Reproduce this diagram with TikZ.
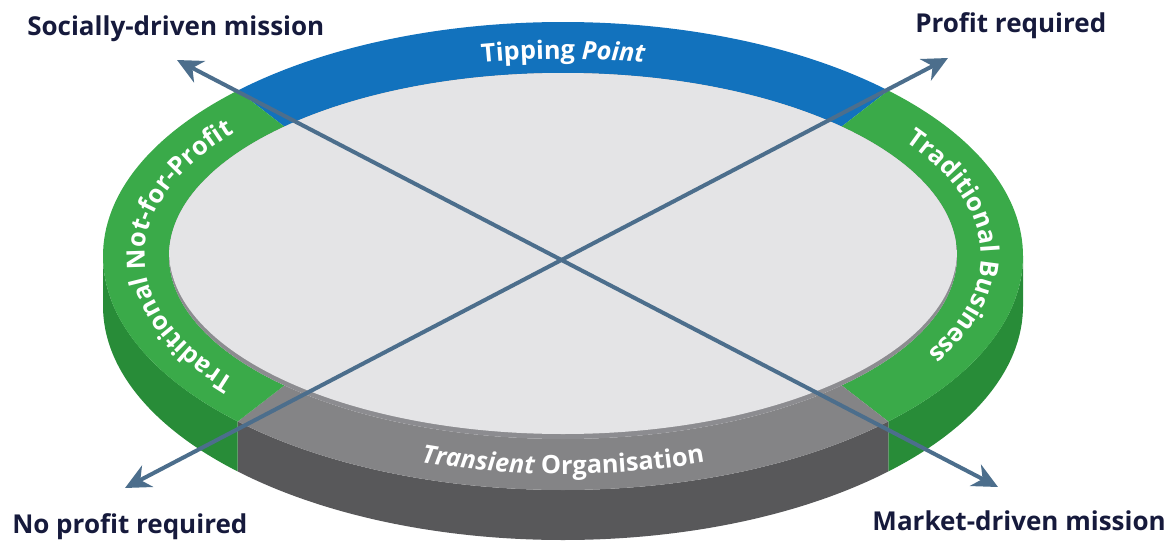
\documentclass[tikz,border=0pt]{standalone}
\usepackage{fontspec}
\setmainfont{Open Sans}
\usepackage{tikz}
\usetikzlibrary{arrows.meta}
\usetikzlibrary{decorations.text}

\newcommand{\ringfont}{\fontsize{19}{22}\selectfont\bfseries}
\newcommand{\labelfont}{\fontsize{19.5}{23}\selectfont\bfseries}

\begin{document}
\begin{tikzpicture}[x=0.75pt,y=0.75pt,yscale=-1,xscale=1,
    tipblue/.style={fill={rgb, 255:red, 18; green, 114; blue, 189 }},
    topgreen/.style={fill={rgb, 255:red, 58; green, 170; blue, 73 }},
    topgray/.style={fill={rgb, 255:red, 132; green, 132; blue, 134 }},
    sidegreen/.style={fill={rgb, 255:red, 40; green, 140; blue, 56 }},
    sidegray/.style={fill={rgb, 255:red, 88; green, 88; blue, 90 }},
    rimgray/.style={fill={rgb, 255:red, 140; green, 140; blue, 144 }},
    facegray/.style={fill={rgb, 255:red, 228; green, 228; blue, 230 }},
    ringtext/.style={decorate, decoration={text along path, text align=center, text color=white, text={#1}}},
    lbl/.style={inner sep=0pt, font=\labelfont, text={rgb, 255:red, 22; green, 26; blue, 60 }},
    axis/.style={draw={rgb, 255:red, 76; green, 110; blue, 140 }, line width=3pt,
        {Stealth[length=19pt,width=18pt,inset=6pt]}-{Stealth[length=19pt,width=18pt,inset=6pt]}}]
    \useasboundingbox (0,0) rectangle (1167,557);

    \foreach \a/\b/\col in {0/45/sidegreen, 45/135/sidegray, 135/180/sidegreen}
        \fill[\col] ({563+460*cos(\a)},{256+234*sin(\a)}) arc[start angle=\a, end angle=\b, x radius=460, y radius=234] -- ++(0,50) arc[start angle=\b, end angle=\a, x radius=460, y radius=234] -- cycle ;

    \foreach \a/\b/\col in {225/315/tipblue, -45/45/topgreen, 45/135/topgray, 135/225/topgreen}
        \fill[\col] ({563+460*cos(\a)},{256+234*sin(\a)}) arc[start angle=\a, end angle=\b, x radius=460, y radius=234] -- ({563+394*cos(\b)},{256+183*sin(\b)}) arc[start angle=\b, end angle=\a, x radius=394, y radius=183] -- cycle ;

    \fill[rimgray] (563,256) ellipse [x radius=394, y radius=183] ;
    \begin{scope}
        \clip (563,256) ellipse [x radius=394, y radius=183] ;
        \fill[facegray] (563,251) ellipse [x radius=394, y radius=183] ;
    \end{scope}

    \path[ringtext={|\ringfont|Tipping |\ringfont\itshape|Point}] ({563+413*cos(200)},{256+197*sin(200)}) arc[start angle=200, end angle=340, x radius=413, y radius=197] ;
    \path[ringtext={|\ringfont|Traditional Business}] ({563+418*cos(-70)},{256+199*sin(-70)}) arc[start angle=-70, end angle=66, x radius=418, y radius=199] ;
    \path[ringtext={|\ringfont|Traditional Not-for-Profit}] ({563+418*cos(110)},{256+199*sin(110)}) arc[start angle=110, end angle=250, x radius=418, y radius=199] ;
    \path[ringtext={|\ringfont\itshape|Transient |\ringfont|Organisation}] ({563+437*cos(150)},{256+218*sin(150)}) arc[start angle=150, end angle=30, x radius=437, y radius=218] ;

    \coordinate (socialTip) at (177,60);
    \coordinate (profitTip) at (948,58);
    \coordinate (noprofitTip) at (125,488);
    \coordinate (marketTip) at (998,487);
    \draw[axis] (noprofitTip) -- (profitTip) ;
    \draw[axis] (socialTip) -- (marketTip) ;

    \node[lbl, anchor=base west] (social) at (27,35) {Socially-driven mission};
    \node[lbl, anchor=base west] (profit) at (915,32) {Profit required};
    \node[lbl, anchor=base west] (noprofit) at (12,533) {No profit required};
    \node[lbl, anchor=base east] (market) at (1166,530) {Market-driven mission};
\end{tikzpicture}
\end{document}
